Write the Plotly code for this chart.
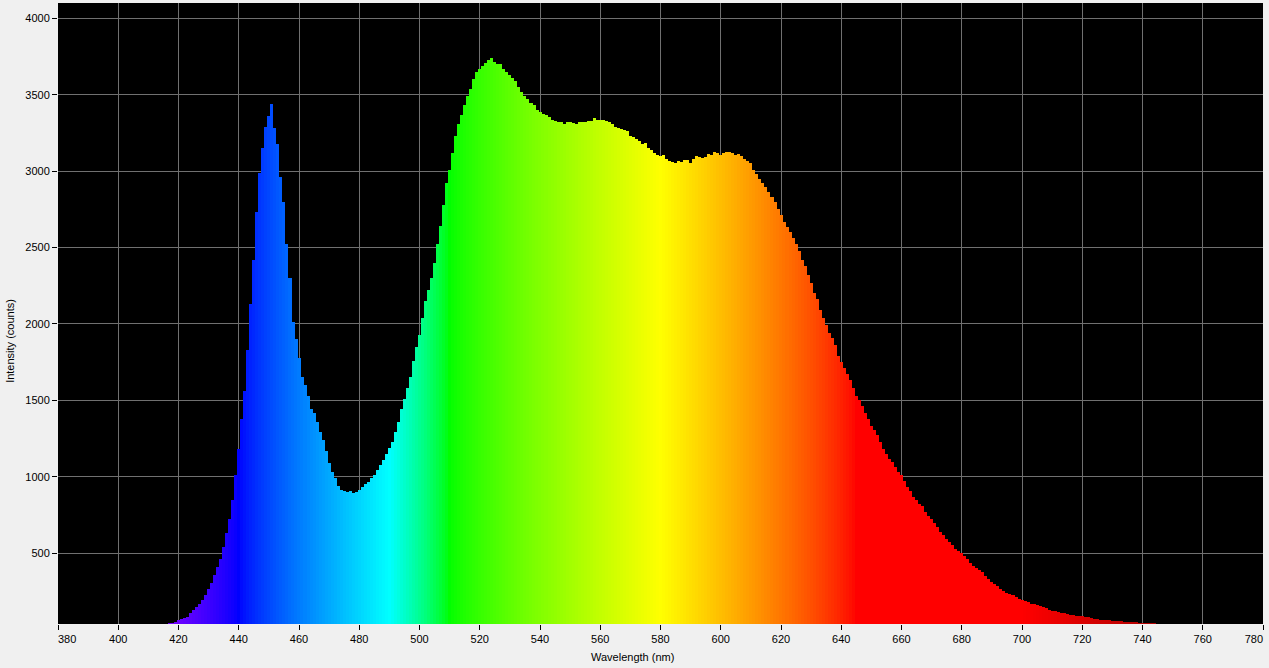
import plotly.graph_objects as go

# Wavelengths (nm), 1 nm steps
wavelengths = list(range(416, 746))

# Intensity (counts), one per nm
intensity = [
    38, 40, 45, 52, 60, 68, 76, 85, 105, 125,            # 416-425
    148, 165, 195, 225, 265, 305, 355, 410, 460, 540,    # 426-435
    630, 720, 850, 1010, 1180, 1380, 1560, 1830, 2130, 2420,  # 436-445
    2730, 2990, 3150, 3290, 3360, 3440, 3280, 3180, 2960, 2800,  # 446-455
    2520, 2300, 2010, 1900, 1780, 1650, 1600, 1530, 1440, 1420,  # 456-465
    1360, 1290, 1240, 1170, 1090, 1030, 990, 940, 910, 905,      # 466-475
    900, 905, 895, 900, 915, 930, 950, 965, 990, 1010,           # 476-485
    1045, 1075, 1110, 1150, 1190, 1230, 1290, 1360, 1440, 1510,  # 486-495
    1580, 1650, 1760, 1850, 1930, 2040, 2150, 2220, 2300, 2400,  # 496-505
    2520, 2640, 2780, 2920, 3010, 3120, 3230, 3310, 3370, 3430,  # 506-515
    3490, 3540, 3600, 3650, 3670, 3690, 3710, 3725, 3740, 3715,  # 516-525
    3700, 3700, 3670, 3650, 3630, 3610, 3590, 3550, 3520, 3490,  # 526-535
    3470, 3445, 3430, 3400, 3385, 3375, 3365, 3355, 3335, 3325,  # 536-545
    3320, 3322, 3310, 3318, 3322, 3315, 3310, 3318, 3322, 3320,  # 546-555
    3325, 3330, 3345, 3335, 3333, 3335, 3330, 3320, 3310, 3290,  # 556-565
    3280, 3278, 3268, 3260, 3230, 3225, 3210, 3195, 3175, 3185,  # 566-575
    3150, 3140, 3120, 3105, 3098, 3105, 3080, 3068, 3060, 3055,  # 576-585
    3064, 3062, 3075, 3072, 3050, 3080, 3100, 3090, 3088, 3092,  # 586-595
    3112, 3107, 3122, 3118, 3105, 3120, 3122, 3123, 3120, 3108,  # 596-605
    3112, 3098, 3080, 3066, 3050, 3010, 2980, 2945, 2920, 2895,  # 606-615
    2865, 2830, 2795, 2755, 2710, 2665, 2635, 2600, 2565, 2520,  # 616-625
    2480, 2420, 2380, 2320, 2270, 2200, 2160, 2090, 2040, 1990,  # 626-635
    1940, 1910, 1860, 1790, 1750, 1710, 1670, 1630, 1580, 1530,  # 636-645
    1500, 1460, 1415, 1375, 1330, 1305, 1270, 1225, 1180, 1150,  # 646-655
    1115, 1098, 1066, 1034, 1012, 975, 935, 905, 870, 845,       # 656-665
    820, 805, 772, 745, 720, 695, 670, 640, 620, 595,            # 666-675
    575, 555, 525, 514, 500, 480, 460, 438, 418, 400,            # 676-685
    388, 378, 348, 332, 314, 296, 283, 265, 252, 238,            # 686-695
    230, 225, 211, 202, 193, 187, 178, 169, 165, 158,            # 696-705
    152, 145, 138, 128, 123, 119, 112, 108, 105, 102,            # 706-715
    98, 94, 91, 88, 86, 83, 79, 74, 70, 67,                      # 716-725
    65, 62, 61, 59, 57, 56, 55, 53, 51, 50,                      # 726-735
    49, 48, 46, 44, 43, 42, 41, 40, 40, 39,                      # 736-745
]

x_ticks = list(range(380, 781, 20))
x_ticktext = [str(v) for v in x_ticks]
PAD = "\u2007\u2007\u2007"
x_ticktext[0] = PAD + x_ticktext[0]
x_ticktext[-1] = x_ticktext[-1] + PAD
y_ticks = list(range(500, 4001, 500))

x_title = "Wavelength (nm)"
y_title = "Intensity (counts)"


def wl_to_rgb(w, gamma=0.8):
    if w < 440:
        r, g, b = -(w - 440) / 60.0, 0.0, 1.0
    elif w < 490:
        r, g, b = 0.0, (w - 440) / 50.0, 1.0
    elif w < 510:
        r, g, b = 0.0, 1.0, -(w - 510) / 20.0
    elif w < 580:
        r, g, b = (w - 510) / 70.0, 1.0, 0.0
    elif w < 645:
        r, g, b = 1.0, -(w - 645) / 65.0, 0.0
    else:
        r, g, b = 1.0, 0.0, 0.0
    if w < 420:
        f = 0.3 + 0.7 * (w - 380) / 40.0
    elif w > 700:
        f = 0.3 + 0.7 * (780 - w) / 80.0
    else:
        f = 1.0

    def c(v):
        return 0 if v <= 0 else int(round(255 * (v * f) ** gamma))
    return f"rgb({c(r)},{c(g)},{c(b)})"


colors = [wl_to_rgb(w) for w in wavelengths]

fig = go.Figure(go.Bar(
    x=wavelengths, y=intensity, width=1.02,
    marker=dict(color=colors, line=dict(width=0)),
    hoverinfo="x+y",
))

font = dict(family="Liberation Sans, Arial, sans-serif", size=11, color="black")

fig.update_layout(
    width=1269, height=668,
    margin=dict(l=58, r=6, t=3, b=44, autoexpand=False),
    paper_bgcolor="#f0f0f0",
    plot_bgcolor="black",
    bargap=0,
    showlegend=False,
    font=font,
    xaxis=dict(
        range=[380, 780], tickvals=x_ticks, ticktext=x_ticktext,
        showgrid=True, gridcolor="#707070", gridwidth=1,
        ticks="outside", ticklen=5, tickcolor="black",
        zeroline=False, showline=False, automargin=False,
        ticklabeloverflow="allow",
        tickfont=font,
    ),
    yaxis=dict(
        range=[36, 4100], tickvals=y_ticks, ticktext=[str(v) for v in y_ticks],
        showgrid=True, gridcolor="#707070", gridwidth=1,
        ticks="outside", ticklen=5, tickcolor="black",
        zeroline=False, showline=False, automargin=False,
        tickfont=font,
    ),
    annotations=[
        dict(text=x_title, xref="paper", yref="paper", x=0.477, y=-0.053,
             xanchor="center", yanchor="middle", showarrow=False, font=font),
        dict(text=y_title, xref="paper", yref="paper", x=-0.0398, y=0.456,
             xanchor="center", yanchor="middle", showarrow=False, font=font,
             textangle=-90),
    ],
)

fig.write_html(
    "out.html",
    config={"displayModeBar": False},
    post_script="document.body.style.margin='0';document.body.style.overflow='hidden';",
)
